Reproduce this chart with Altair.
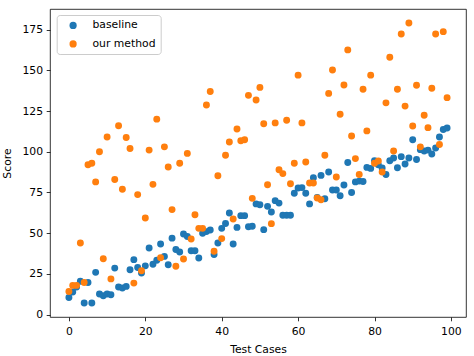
import altair as alt
import pandas as pd

test_cases = list(range(100))

baseline = [10.6, 14, 17, 20.5, 7.2, 19.8, 7.2, 26, 12.7, 11.7,
            12.7, 12.3, 28.6, 17, 16.4, 17.4, 27.6, 33.8, 29, 25.6,
            30, 41, 31, 33.4, 43.4, 35.8, 30.7, 47, 40, 38.5,
            49.5, 48, 39.3, 39.3, 34.8, 50, 51, 52, 37, 44,
            53, 56, 62.4, 43.4, 53.6, 60.8, 60.8, 54, 54.3, 68,
            67.5, 52.2, 66.5, 63, 70, 68.5, 61, 61, 61, 74.5,
            77.8, 78, 74.5, 68, 84, 72, 85.5, 71.2, 87.6, 76.5,
            76.5, 73, 79.6, 93.4, 75, 81.5, 82, 81.8, 90.4, 89.8,
            94.5, 92, 90, 86, 94.5, 96.2, 90.2, 97, 92.5, 96.2,
            107.4, 95.2, 101.3, 100.5, 101, 98.6, 102.3, 109, 113.6, 114.6]

our_method = [14.3, 18, 18, 44, 19.8, 92, 93, 81.5, 100, 34.4,
              109, 22, 83, 116, 77, 108.7, 102, 19.4, 73.7, 27,
              59.3, 101, 80, 120, 35, 103, 90.6, 64.5, 29.7, 93,
              34.2, 99, 46.5, 61.4, 53, 53, 128.7, 137, 38.9, 85.3,
              46.7, 97.8, 106, 58.7, 114, 106.8, 107.4, 134.6, 71.4, 131.8,
              139.5, 117.2, 79.8, 55.9, 117.7, 89, 86.6, 119.3, 80.4, 93,
              147, 117.7, 93.7, 80.8, 80.8, 71.6, 70.6, 97.8, 135.8, 150.2,
              84.5, 123, 141, 162.5, 109.7, 95.8, 86, 138.3, 112.8, 147,
              93, 94.3, 87.6, 130, 158, 100.5, 138.3, 172.3, 128, 179,
              115.8, 140.8, 103, 122.4, 114.8, 139, 172.3, 104.5, 173.7, 133.2]

series_names = ["baseline", "our method"]
series_colors = ["#1f77b4", "#ff7f0e"]
x_ticks = [0, 20, 40, 60, 80, 100]
y_ticks = [0, 25, 50, 75, 100, 125, 150, 175]

rows = []
for name, values in zip(series_names, [baseline, our_method]):
    for x, y in zip(test_cases, values):
        rows.append({"Test Cases": x, "Score": y, "series": name})
df = pd.DataFrame(rows)

FONT = "DejaVu Sans"
FS = 10.8

chart = alt.Chart(df).mark_circle(size=48, opacity=1).encode(
    x=alt.X("Test Cases:Q",
            scale=alt.Scale(domain=[-4.95, 103.95], nice=False, zero=False),
            axis=alt.Axis(values=x_ticks, title="Test Cases", grid=False,
                          domain=False, tickColor="black", tickWidth=0.8,
                          tickSize=3.8, labelPadding=4.8, titlePadding=7,
                          labelFlush=False)),
    y=alt.Y("Score:Q",
            scale=alt.Scale(domain=[-1.39, 187.59], nice=False, zero=False),
            axis=alt.Axis(values=y_ticks, title="Score", grid=False,
                          domain=False, tickColor="black", tickWidth=0.8,
                          tickSize=3.8, labelPadding=3.6, titlePadding=9,
                          labelFlush=False)),
    color=alt.Color("series:N",
                    scale=alt.Scale(domain=series_names, range=series_colors),
                    legend=alt.Legend(orient="none", legendX=6.7, legendY=6,
                                      title=None, padding=5,
                                      strokeColor="#cccccc", fillColor="rgba(255,255,255,0.8)",
                                      cornerRadius=3, symbolType="circle",
                                      symbolSize=52, symbolStrokeWidth=0,
                                      symbolOpacity=1, labelFont=FONT,
                                      labelFontSize=FS, labelColor="black",
                                      rowPadding=6.5, symbolOffset=6,
                                      labelOffset=14)),
).properties(
    width=416,
    height=308,
    padding={"left": 50, "top": 9, "right": 8, "bottom": 39},
    autosize=alt.AutoSizeParams(type="none"),
).configure_view(
    stroke="black", strokeWidth=0.8
).configure_axis(
    labelFont=FONT, labelFontSize=FS, labelColor="black",
    titleFont=FONT, titleFontSize=FS, titleColor="black", titleFontWeight="normal"
)

chart.save("out.html", embed_options={"renderer": "svg", "actions": False})
